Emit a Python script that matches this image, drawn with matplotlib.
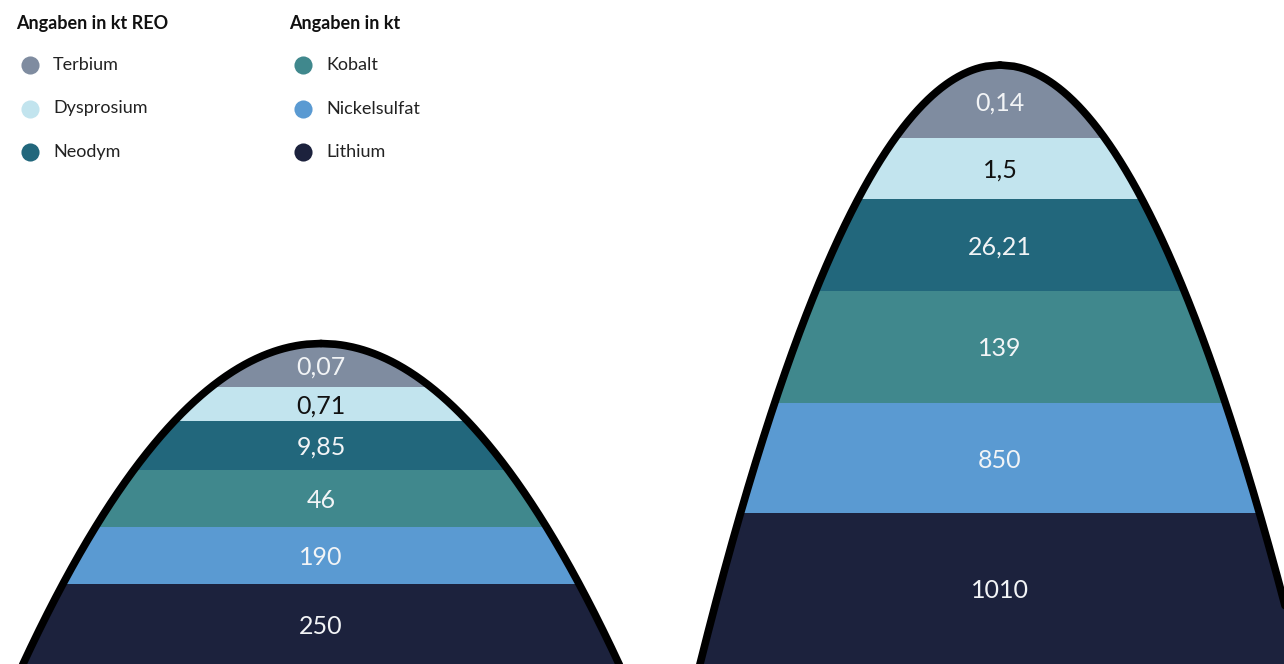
import numpy as np
import matplotlib.pyplot as plt
from matplotlib.patches import Polygon

plt.rcParams['font.family'] = ['Lato', 'DejaVu Sans']

# bands from bottom to top
elements = ["Lithium", "Nickelsulfat", "Kobalt", "Neodym", "Dysprosium", "Terbium"]
colours = ["#1c223d", "#5a9ad2", "#40888d", "#22677c", "#c2e4ee", "#7f8ca0"]
text_colours = ["#f2f4f6", "#f2f4f6", "#f2f4f6", "#f2f4f6", "#111111", "#f2f4f6"]
values_left = ["250", "190", "46", "9,85", "0,71", "0,07"]
values_right = ["1010", "850", "139", "26,21", "1,5", "0,14"]

legend_reo = ["Terbium", "Dysprosium", "Neodym"]
legend_kt = ["Kobalt", "Nickelsulfat", "Lithium"]

# layout of the two "mountains" (illustrative, band heights not to scale)
band_left = [80, 57, 57, 49, 34, 60]
band_right = [151, 110, 112, 92, 61, 90]

fig = plt.figure(figsize=(12.84, 6.64), dpi=100)
ax = fig.add_axes([0, 0, 1, 1])
ax.set_xlim(0, 1284)
ax.set_ylim(0, 664)
ax.axis("off")


def mountain(ax, cx, peak, base, bands, labels):
    # parabola: half width grows with sqrt of depth below the peak
    y = np.linspace(-40, peak, 500)
    hw = base * np.sqrt(np.clip(peak - y, 0, None) / peak)
    xs = np.concatenate([cx - hw, (cx + hw)[::-1]])
    ys = np.concatenate([y, y[::-1]])
    shape = Polygon(np.column_stack([xs, ys]), closed=True, fc="none", ec="none")
    ax.add_patch(shape)

    tops = np.cumsum(bands)
    bottoms = tops - np.array(bands)
    bottoms_draw = bottoms.copy()
    bottoms_draw[0] = -40
    heights = tops - bottoms_draw
    bars = ax.bar([cx] * len(bands), heights, bottom=bottoms_draw,
                  width=2 * base + 60, color=colours, linewidth=0)
    for b in bars:
        b.set_clip_path(shape)

    for i, lab in enumerate(labels):
        hi = min(tops[i], peak)
        ax.text(cx, (bottoms[i] + hi) / 2 - 2, lab, ha="center", va="center",
                fontsize=18, color=text_colours[i])

    ax.plot(cx - hw, y, color="black", lw=5.5, solid_capstyle="round")
    ax.plot(cx + hw, y, color="black", lw=5.5, solid_capstyle="round")


mountain(ax, 321, 320.5, 298, band_left, values_left)
mountain(ax, 1000, 599, 300, band_right, values_right)

# legend
col_map = dict(zip(elements, colours))
for x0, title, names in [(16, "Angaben in kt REO", legend_reo),
                         (289, "Angaben in kt", legend_kt)]:
    ax.text(x0, 664 - 23, title, fontsize=13, fontweight="bold",
            color="#111111", va="center", ha="left")
    for j, name in enumerate(names):
        yy = 664 - (65 + 43.5 * j)
        ax.scatter(x0 + 14, yy, s=170, color=col_map[name], linewidths=0)
        ax.text(x0 + 37, yy, name, fontsize=13, color="#222222",
                va="center", ha="left")

fig.savefig("out.png", dpi=100)
